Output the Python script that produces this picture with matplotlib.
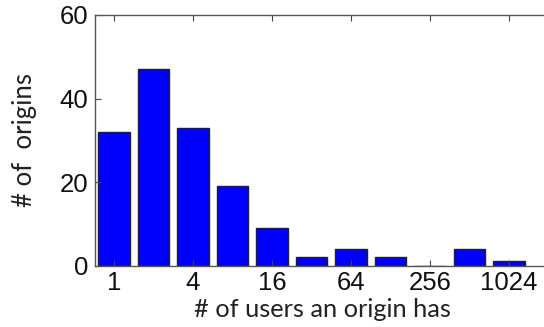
import matplotlib
matplotlib.use("Agg")
import matplotlib.pyplot as plt
import numpy as np

# histogram of origins by number of users (log2 bins)
bins = np.arange(1, 12)
counts = [32, 47, 33, 19, 9, 2, 4, 2, 0, 4, 1]
tick_pos = [1, 3, 5, 7, 9, 11]
tick_labels = ["1", "4", "16", "64", "256", "1024"]

fig = plt.figure(figsize=(5.44, 3.27), dpi=100)
ax = fig.add_axes([95 / 544, 1 - 265.5 / 327, 455 / 544, 250.5 / 327])

ax.bar(bins, counts, width=0.8, color="#0000ff", edgecolor="#222222", linewidth=1.0)

ax.set_xlim(0.52, 0.52 + 455 / 39.5)
ax.set_ylim(0, 60)
ax.set_xticks(tick_pos)
ax.set_xticklabels(tick_labels)
ax.set_yticks([0, 20, 40, 60])

ax.tick_params(direction="in", length=4, width=0.8, color="#444444",
               labelsize=18.5, top=True, right=True)
ax.tick_params(axis="x", pad=4)
ax.tick_params(axis="y", pad=5)
for lab in ax.get_xticklabels() + ax.get_yticklabels():
    lab.set_fontfamily("Liberation Sans")
    lab.set_color("#111111")
for sp in ax.spines.values():
    sp.set_color("#555555")
    sp.set_linewidth(1.0)

ax.set_xlabel("# of users an origin has", fontsize=18.3, family="Lato",
              color="#222222", labelpad=2)
ax.set_ylabel("# of  origins", fontsize=18.5, family="Lato",
              color="#222222", labelpad=16)

fig.savefig("out.png", dpi=100)
